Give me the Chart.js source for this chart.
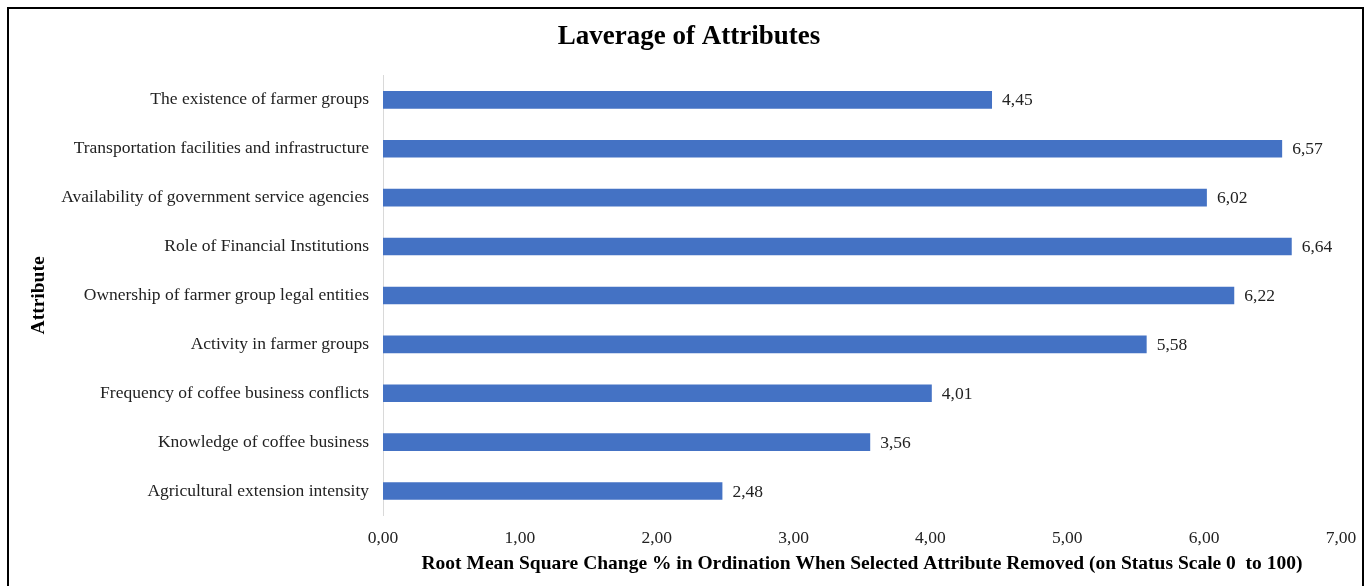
<!DOCTYPE html>
<html>
<head>
<meta charset="utf-8">
<script src="https://cdn.jsdelivr.net/npm/chart.js@4.4.0/dist/chart.umd.min.js"></script>
<style>
  html, body { margin: 0; padding: 0; background: #fff; overflow: hidden; }
  #wrap { position: absolute; left: 0; top: 0; width: 1369px; height: 586px; }
  #frame { position: absolute; left: 7px; top: 7px; width: 1353px; height: 590px; border: 2px solid #000; pointer-events: none; }
</style>
</head>
<body>
<div id="wrap"><canvas id="leverageChart" width="1369" height="586"></canvas></div>
<div id="frame"></div>
<script>
const attributes = [
    'The existence of farmer groups',
    'Transportation facilities and infrastructure',
    'Availability of government service agencies',
    'Role of Financial Institutions',
    'Ownership of farmer group legal entities',
    'Activity in farmer groups',
    'Frequency of coffee business conflicts',
    'Knowledge of coffee business',
    'Agricultural extension intensity'
];
const rmsChange = [4.45, 6.57, 6.02, 6.64, 6.22, 5.58, 4.01, 3.56, 2.48];
const xTicks = [0, 1, 2, 3, 4, 5, 6, 7];

const serif = "'Liberation Serif', 'Times New Roman', serif";

function commaNumber(v) {
    return Number(v).toFixed(2).replace('.', ',');
}

// draws the value next to the end of each bar
const barValueLabels = {
    id: 'barValueLabels',
    afterDatasetsDraw(chart) {
        const ctx = chart.ctx;
        const meta = chart.getDatasetMeta(0);
        ctx.save();
        ctx.font = '17.5px ' + serif;
        ctx.fillStyle = '#222';
        ctx.textAlign = 'left';
        ctx.textBaseline = 'middle';
        meta.data.forEach((bar, i) => {
            ctx.fillText(commaNumber(rmsChange[i]), bar.x + 10, bar.y + 1);
        });
        ctx.restore();
    }
};

// the original title sits a little right of the canvas centre
const shiftTitle = {
    id: 'shiftTitle',
    afterLayout(chart) {
        if (chart.titleBlock) chart.titleBlock.left += 37;
    }
};

const context = document.getElementById('leverageChart').getContext('2d');
new Chart(context, {
    type: 'bar',
    data: {
        labels: attributes,
        datasets: [{
            data: rmsChange,
            backgroundColor: '#4472C4',
            barPercentage: 0.36,
            categoryPercentage: 1.0
        }]
    },
    options: {
        indexAxis: 'y',
        responsive: false,
        animation: false,
        layout: { padding: { left: 0, right: 28, top: 0, bottom: 0 } },
        plugins: {
            legend: { display: false },
            tooltip: { enabled: false },
            title: {
                display: true,
                text: 'Laverage of Attributes',
                color: '#000',
                font: { family: serif, size: 27, weight: 'bold' },
                padding: { top: 21, bottom: 22 }
            }
        },
        scales: {
            x: {
                min: 0,
                max: 7,
                afterBuildTicks: scale => { scale.ticks = xTicks.map(v => ({ value: v })); },
                afterFit: scale => { scale.height = 70.5; },
                grid: { display: false, drawTicks: false },
                border: { display: false },
                ticks: {
                    padding: 12,
                    color: '#222',
                    font: { family: serif, size: 17.5 },
                    callback: v => commaNumber(v)
                },
                title: {
                    display: true,
                    text: 'Root Mean Square Change % in Ordination When Selected Attribute Removed (on Status Scale 0  to 100)',
                    color: '#000',
                    font: { family: serif, size: 19.5, weight: 'bold' },
                    padding: { top: 0, bottom: 10 }
                }
            },
            y: {
                afterFit: scale => { scale.width = 383; },
                grid: { display: false, drawTicks: false },
                border: { display: true, color: '#d9d9d9', width: 1 },
                ticks: {
                    padding: 14,
                    color: '#222',
                    font: { family: serif, size: 17.5 }
                },
                title: {
                    display: true,
                    text: 'Attribute',
                    color: '#000',
                    font: { family: serif, size: 19.5, weight: 'bold' },
                    padding: { top: 27, bottom: 0 }
                }
            }
        }
    },
    plugins: [barValueLabels, shiftTitle]
});
</script>
</body>
</html>
